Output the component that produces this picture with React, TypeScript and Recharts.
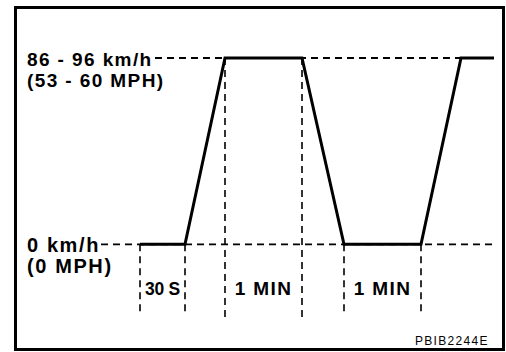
import React from 'react';
import { LineChart, Line, XAxis, YAxis, ReferenceLine, ReferenceArea } from 'recharts';

// ---- data ----
const times = [0, 45, 85, 162, 204, 281, 321, 354];
const speeds = [0, 0, 91, 91, 0, 0, 91, 91];

const levelValues = [91, 0];
const levelKmh = ['86 - 96 km/h', '0 km/h'];
const levelMph = ['(53 - 60 MPH)', '(0 MPH)'];
const levelGuideFrom = [15, -39];
const levelGuideTo = [321, 353];

const intervalStarts = [0, 85, 204];
const intervalEnds = [45, 162, 281];
const intervalLabels = ['30 S', '1 MIN', '1 MIN'];
const intervalGuideBottom = [-34, -36, -34];

const figureCode = 'PBIB2244E';

const data = times.map((t, i) => ({ t, v: speeds[i] }));
const speedAt = (t: number) => speeds[times.indexOf(t)];

// ---- layout / style ----
const W = 506;
const H = 352;
const MARGIN = { top: 58, right: 12, bottom: 34, left: 27 };
const FONT = "'Liberation Sans', Arial, Helvetica, sans-serif";
const LABEL_STYLE: React.CSSProperties = {
  fontFamily: FONT,
  fontWeight: 700,
  fontSize: 19,
  letterSpacing: 1.4,
  fill: '#000',
};
const LEVEL_FONT = [19, 20];
const LEVEL_SPACING = [1.4, 1.6];
const DASH = '7 5';

function levelLabel(i: number) {
  return (props: any) => {
    const vb = props.viewBox || {};
    const y = vb.y ?? 0;
    const style = { ...LABEL_STYLE, fontSize: LEVEL_FONT[i], letterSpacing: LEVEL_SPACING[i] };
    return (
      <g>
        <text x={MARGIN.left} y={y + 7.5} style={style}>{levelKmh[i]}</text>
        <text x={MARGIN.left} y={y + 28.5} style={style}>{levelMph[i]}</text>
      </g>
    );
  };
}

function intervalLabel(i: number) {
  return (props: any) => {
    const vb = props.viewBox || {};
    const cx = (vb.x ?? 0) + (vb.width ?? 0) / 2;
    const y = (vb.y ?? 0) + 51;
    const style = i === 0 ? { ...LABEL_STYLE, fontSize: 17.5, letterSpacing: -0.3 } : LABEL_STYLE;
    return (
      <text x={cx} y={y} textAnchor="middle" style={style}>{intervalLabels[i]}</text>
    );
  };
}

export default function App() {
  return (
    <div style={{ position: 'absolute', left: 0, top: 0, width: W, height: H, background: '#fff' }}>
      <div
        style={{
          position: 'absolute',
          left: 14,
          top: 6,
          width: 491,
          height: 345,
          border: '3px solid #000',
          boxSizing: 'border-box',
        }}
      />
      <div style={{ position: 'absolute', left: 0, top: 0 }}>
        <LineChart width={W} height={H} data={data} margin={MARGIN}>
          <XAxis dataKey="t" type="number" scale="linear" domain={[-113, 354]} hide />
          <YAxis type="number" scale="linear" domain={[-36, 91]} hide />
          {levelValues.map((v, i) => (
            <ReferenceLine
              key={'lvl' + i}
              segment={[{ x: levelGuideFrom[i], y: v }, { x: levelGuideTo[i], y: v }]}
              stroke="#000"
              strokeWidth={1.8}
              strokeDasharray={DASH}
              ifOverflow="visible"
              label={levelLabel(i)}
            />
          ))}
          {intervalStarts.map((s, i) => (
            <ReferenceLine
              key={'vs' + i}
              segment={[{ x: s, y: speedAt(s) }, { x: s, y: intervalGuideBottom[i] }]}
              stroke="#000"
              strokeWidth={1.6}
              strokeDasharray={DASH}
              ifOverflow="visible"
            />
          ))}
          {intervalEnds.map((e, i) => (
            <ReferenceLine
              key={'ve' + i}
              segment={[{ x: e, y: speedAt(e) }, { x: e, y: intervalGuideBottom[i] }]}
              stroke="#000"
              strokeWidth={1.6}
              strokeDasharray={DASH}
              ifOverflow="visible"
            />
          ))}
          {intervalStarts.map((s, i) => (
            <ReferenceArea
              key={'ia' + i}
              x1={s}
              x2={intervalEnds[i]}
              y1={-34}
              y2={0}
              fill="none"
              fillOpacity={0}
              stroke="none"
              ifOverflow="visible"
              label={intervalLabel(i)}
            />
          ))}
          <Line
            type="linear"
            dataKey="v"
            stroke="#000"
            strokeWidth={3}
            dot={false}
            activeDot={false}
            isAnimationActive={false}
          />
        </LineChart>
      </div>
      <svg style={{ position: 'absolute', left: 0, top: 0 }} width={W} height={H} pointerEvents="none">
        <text x={415} y={345} style={{ fontFamily: FONT, fontSize: 12, letterSpacing: 1.3, fill: '#000' }}>
          {figureCode}
        </text>
      </svg>
    </div>
  );
}
